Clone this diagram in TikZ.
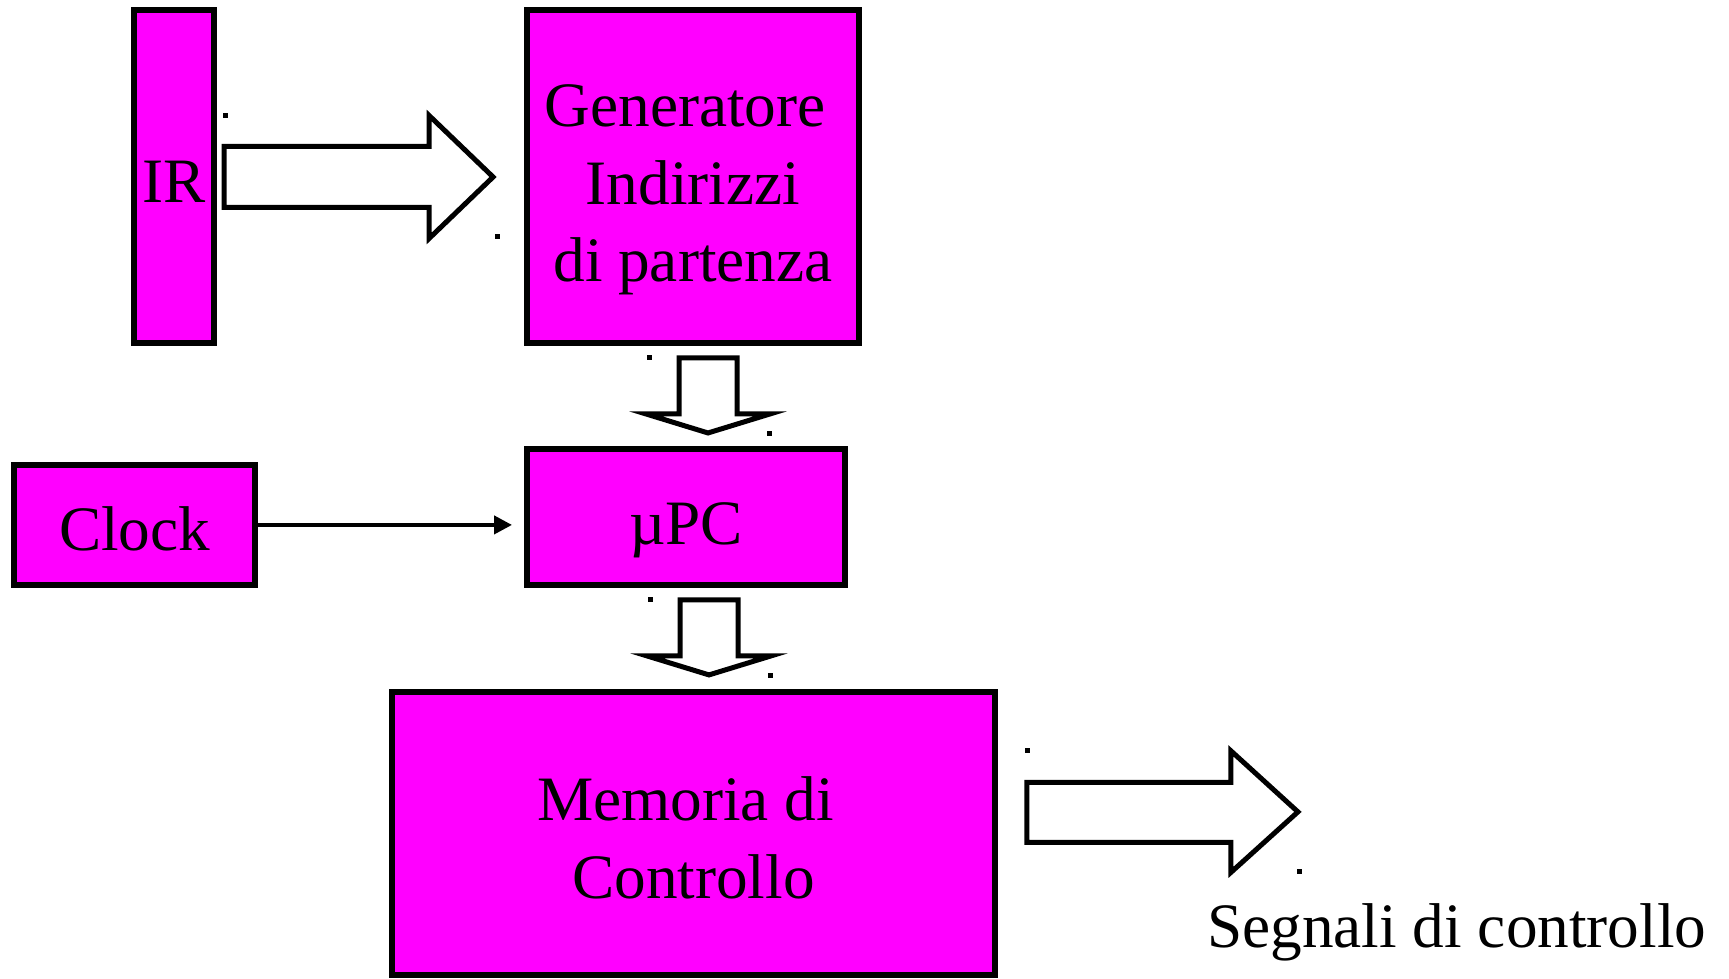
\documentclass[tikz,border=0pt]{standalone}
\usepackage{fontspec}
\setmainfont{Liberation Serif}
\usetikzlibrary{arrows.meta,positioning,calc}
\definecolor{boxfill}{RGB}{255,0,255}
\tikzset{block/.style={rectangle,draw=black,line width=0.12cm,fill=boxfill,inner sep=0pt,align=center},
		fat/.style={draw=black,line width=0.1cm,fill=white},
		tick/.style={fill=black},
		post/.style={-{Triangle[length=0.36cm,width=0.36cm]},line width=0.08cm}}

\begin{document}
\begin{tikzpicture}[x=0.02cm,y=-0.02cm,font=\fontsize{36}{44}\selectfont]
	\useasboundingbox (0,0) rectangle (1729,979);
	\node[block,minimum width=6.64cm,minimum height=6.66cm] (gen) at (693,176.5) {\rule{0pt}{1.38cm}Generatore\kern0.25em\\Indirizzi\\di partenza};
	\node[block,minimum width=1.6cm,minimum height=6.66cm,text height=1.06cm,text depth=0pt] (ir) [left=6.14cm of gen] {IR};
	\node[block,minimum width=6.36cm,minimum height=2.72cm,text height=1.1cm,text depth=0pt] (upc) [below=2cm of gen.south west,anchor=north west] {µPC};
	\node[block,minimum width=4.82cm,minimum height=2.4cm,text height=1.04cm,text depth=0pt] (clock) [left=5.32cm of upc.south west,anchor=south east] {Clock};
	\node[block,minimum width=12.06cm,minimum height=5.66cm] (mem) [below=2.02cm of upc,xshift=0.15cm] {\rule{0pt}{1.06cm}Memoria di\kern0.25em\\Controllo};
	\node[inner sep=0pt,anchor=base west] (segnali) at (1207,948) {Segnali di controllo};

	% IR -> generatore
	\draw[fat] ($(ir.east)+(7,-30)$) -- ++(205,0) -- ++(0,-31) -- ++(64,61.5) -- ++(-64,61.5) -- ++(0,-31) -- ++(-205,0) -- cycle;
	\fill[tick] ($(ir.east)+(8,-61)$) +(-2.5,-2.5) rectangle +(2.5,2.5);
	\fill[tick] ($(ir.east)+(280,60.5)$) +(-2.5,-2.5) rectangle +(2.5,2.5);

	% generatore -> upc
	\draw[fat] ($(gen.south)+(-14,12)$) -- ++(0,56) -- ++(-33,0) -- ++(62,19) -- ++(62,-19) -- ++(-33,0) -- ++(0,-56) -- cycle;
	\fill[tick] ($(gen.south)+(-44,12)$) +(-2.5,-2.5) rectangle +(2.5,2.5);
	\fill[tick] ($(gen.south)+(76,88)$) +(-2.5,-2.5) rectangle +(2.5,2.5);

	% upc -> memoria
	\draw[fat] ($(upc.south)+(-6,12)$) -- ++(0,56) -- ++(-33,0) -- ++(62,19) -- ++(62,-19) -- ++(-33,0) -- ++(0,-56) -- cycle;
	\fill[tick] ($(upc.south)+(-36,12)$) +(-2.5,-2.5) rectangle +(2.5,2.5);
	\fill[tick] ($(upc.south)+(84,88)$) +(-2.5,-2.5) rectangle +(2.5,2.5);

	% memoria -> segnali
	\draw[fat] ($(mem.east)+(29,-51)$) -- ++(204,0) -- ++(0,-31.5) -- ++(67,61) -- ++(-67,60.5) -- ++(0,-30) -- ++(-204,0) -- cycle;
	\fill[tick] ($(mem.east)+(30,-82.5)$) +(-2.5,-2.5) rectangle +(2.5,2.5);
	\fill[tick] ($(mem.east)+(302,38.5)$) +(-2.5,-2.5) rectangle +(2.5,2.5);

	\draw[post,shorten >=0.24cm] (clock.east) -- (clock.east -| upc.west);
\end{tikzpicture}
\end{document}
